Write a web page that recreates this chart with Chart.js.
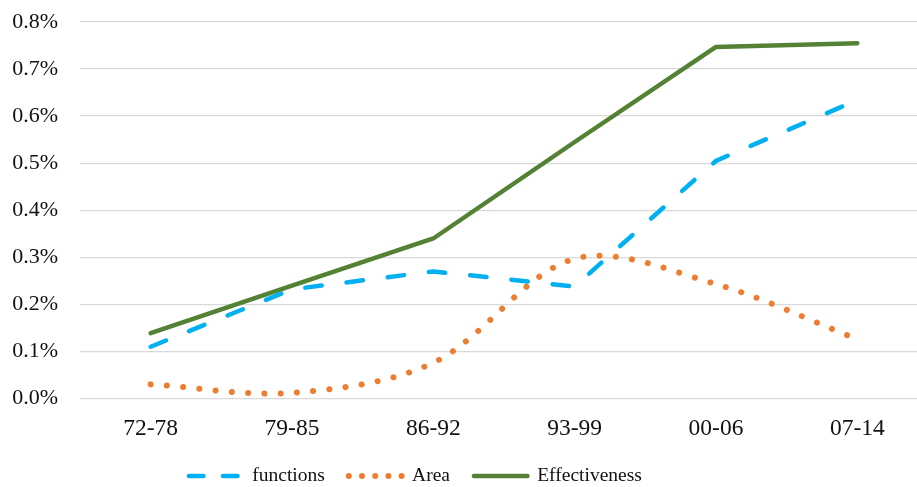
<!DOCTYPE html>
<html>
<head>
<meta charset="utf-8">
<script src="https://cdn.jsdelivr.net/npm/chart.js@4/dist/chart.umd.min.js"></script>
<style>
  html, body { margin: 0; padding: 0; background: #ffffff; overflow: hidden; }
  #wrap { width: 928px; height: 487px; }
</style>
</head>
<body>
<div id="wrap"><canvas id="chart" width="928" height="487"></canvas></div>
<script>
// Periods on the category axis
const periods = ['72-78', '79-85', '86-92', '93-99', '00-06', '07-14'];

// Shares in percent for each period
const functionsValues = [0.11, 0.232, 0.27, 0.238, 0.505, 0.634];
const areaValues = [0.03, 0.012, 0.076, 0.297, 0.243, 0.126];
const effectivenessValues = [0.139, 0.24, 0.34, 0.545, 0.747, 0.755];

// Y axis tick range (percent)
const yMin = 0;
const yMax = 0.8;
const yStep = 0.1;

const serif = '"Liberation Serif", "Times New Roman", serif';

// Moves the legend row under the plot to its place
const legendPlacer = {
  id: 'legendPlacer',
  afterLayout(chart) {
    const lg = chart.legend;
    if (!lg || !lg.lineWidths) return;
    const pad = lg.options.labels.padding;
    const rowStart = (lg.left + pad + lg.right - lg.lineWidths[0]) / 2;
    const dx = 189 - rowStart;
    lg.left += dx; lg.right += dx;
    const itemH = lg.options.labels.font.size * 1.2;
    const rowMid = lg.top + pad + itemH / 2;
    const dy = 478 - rowMid;
    lg.top += dy; lg.bottom += dy;
  }
};

// Legend samples drawn with each series' own stroke pattern
function legendItems(chart) {
  const items = Chart.defaults.plugins.legend.labels.generateLabels(chart);
  items.forEach((item) => {
    const ds = chart.data.datasets[item.datasetIndex];
    item.strokeStyle = ds.borderColor;
    item.fillStyle = ds.borderColor;
    item.lineWidth = ds.borderWidth;
    item.lineCap = 'round';
    item.lineDash = ds.legendDash || [];
    item.pointStyle = 'line';
  });
  return items;
}

new Chart(document.getElementById('chart'), {
  type: 'line',
  data: {
    labels: periods,
    datasets: [
      {
        label: 'functions',
        data: functionsValues,
        borderColor: '#00B0F0',
        backgroundColor: '#00B0F0',
        borderWidth: 4.5,
        borderDash: [16.5, 25],
        legendDash: [14.5, 19.5],
        borderCapStyle: 'round',
        borderJoinStyle: 'round',
        tension: 0,
        pointRadius: 0,
        fill: false
      },
      {
        label: 'Area',
        data: areaValues,
        borderColor: '#ED7D31',
        backgroundColor: '#ED7D31',
        borderWidth: 6,
        borderDash: [0.001, 16.3],
        legendDash: [0.001, 13.2],
        borderCapStyle: 'round',
        borderJoinStyle: 'round',
        tension: 0.33,
        pointRadius: 0,
        fill: false
      },
      {
        label: 'Effectiveness',
        data: effectivenessValues,
        borderColor: '#548235',
        backgroundColor: '#548235',
        borderWidth: 4.5,
        borderCapStyle: 'round',
        borderJoinStyle: 'round',
        tension: 0,
        pointRadius: 0,
        fill: false
      }
    ]
  },
  options: {
    responsive: false,
    devicePixelRatio: 1,
    animation: false,
    layout: { padding: { top: 22, left: 0, right: 0, bottom: -15 } },
    plugins: {
      tooltip: { enabled: false },
      legend: {
        position: 'bottom',
        labels: {
          usePointStyle: true,
          pointStyle: 'line',
          pointStyleWidth: 53.5,
          boxHeight: 10,
          padding: 24,
          color: '#111111',
          font: { family: serif, size: 19.5 },
          generateLabels: legendItems
        }
      }
    },
    scales: {
      x: {
        offset: true,
        grid: { display: false },
        border: { display: false },
        ticks: {
          color: '#111111',
          padding: 8,
          maxRotation: 0,
          font: { family: serif, size: 23.5 }
        },
        afterFit(scale) { scale.height = 50; }
      },
      y: {
        min: yMin,
        max: yMax,
        grid: { color: '#d9d9d9', lineWidth: 1.3, drawTicks: false },
        border: { display: false },
        ticks: {
          stepSize: yStep,
          color: '#111111',
          padding: 22,
          font: { family: serif, size: 22 },
          callback: (v) => Number(v).toFixed(1) + '%'
        },
        afterFit(scale) {
          scale.width = 80;
          scale.paddingTop = 0;
          scale.paddingBottom = 0;
        }
      }
    }
  },
  plugins: [legendPlacer]
});
</script>
</body>
</html>
